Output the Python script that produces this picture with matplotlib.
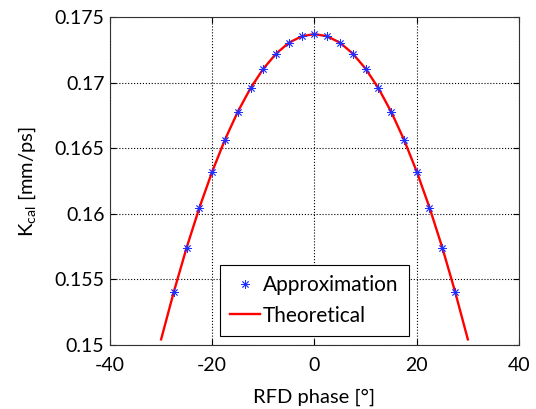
import numpy as np
import matplotlib
matplotlib.use("Agg")
import matplotlib.pyplot as plt

plt.rcParams['font.family'] = ['Lato', 'DejaVu Sans']
plt.rcParams['axes.unicode_minus'] = False

# approximation points (2.5 deg steps)
approx_phase = [-27.5, -25, -22.5, -20, -17.5, -15, -12.5, -10, -7.5, -5, -2.5, 0,
                2.5, 5, 7.5, 10, 12.5, 15, 17.5, 20, 22.5, 25, 27.5]
approx_k = [0.15407, 0.15743, 0.16048, 0.16322, 0.16566, 0.16778, 0.16958, 0.17106,
            0.17221, 0.17304, 0.17353, 0.17370, 0.17353, 0.17304, 0.17221, 0.17106,
            0.16958, 0.16778, 0.16566, 0.16322, 0.16048, 0.15743, 0.15407]

# theoretical curve
theo_phase = [-30, -27.5, -25, -22.5, -20, -17.5, -15, -12.5, -10, -7.5, -5, -2.5, 0,
              2.5, 5, 7.5, 10, 12.5, 15, 17.5, 20, 22.5, 25, 27.5, 30]
theo_k = [0.15043, 0.15407, 0.15743, 0.16048, 0.16322, 0.16566, 0.16778, 0.16958,
          0.17106, 0.17221, 0.17304, 0.17353, 0.17370, 0.17353, 0.17304, 0.17221,
          0.17106, 0.16958, 0.16778, 0.16566, 0.16322, 0.16048, 0.15743, 0.15407, 0.15043]

fig = plt.figure(figsize=(5.36, 4.09), dpi=100)
ax = fig.add_axes([0.2052, 0.1565, 0.763, 0.8019])

ax.plot(approx_phase, approx_k, linestyle="none", marker=(8, 2, 0), color="#2030ff",
        markersize=6, markeredgewidth=0.6, label="Approximation", zorder=3)
ax.plot(theo_phase, theo_k, color="red", linewidth=1.7, label="Theoretical", zorder=2)

ax.set_xlim(-40, 40)
ax.set_ylim(0.15, 0.175)
ax.set_xticks([-40, -20, 0, 20, 40])
ax.set_yticks([0.15, 0.155, 0.16, 0.165, 0.17, 0.175])
ax.set_yticklabels(["0.15", "0.155", "0.16", "0.165", "0.17", "0.175"])
ax.grid(True, linestyle=":", color="black", linewidth=0.8)
ax.tick_params(direction="in", top=True, right=True, labelsize=14, length=4)
ax.tick_params(axis="x", pad=9)
ax.tick_params(axis="y", pad=4)
for s in ax.spines.values():
    s.set_linewidth(0.8)
    s.set_color("#333333")

ax.set_xlabel("RFD phase [°]", fontsize=14.5, labelpad=10)
ax.set_ylabel(r"K$_{\mathregular{cal}}$ [mm/ps]", fontsize=14.5, labelpad=12)

leg = ax.legend(loc="lower left", bbox_to_anchor=(0.269, 0.027),
                fontsize=15, fancybox=False, framealpha=1,
                edgecolor="black", handlelength=1.4, handletextpad=0.15,
                borderpad=0.5, borderaxespad=0)
leg.get_frame().set_linewidth(0.8)

fig.savefig("out.png", dpi=100)
